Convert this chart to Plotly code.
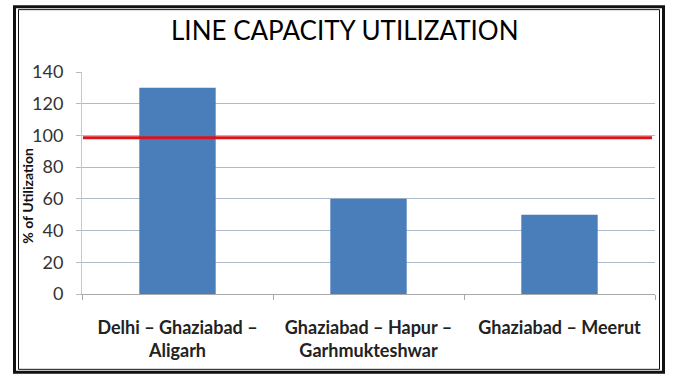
import plotly.graph_objects as go

categories = ["Delhi – Ghaziabad –<br>Aligarh", "Ghaziabad – Hapur –<br>Garhmukteshwar", "Ghaziabad – Meerut"]
utilization = [130, 60, 50]
threshold = 98.5
y_ticks = [0, 20, 40, 60, 80, 100, 120, 140]

W, H = 674, 382
L, R, T, B = 82, 19, 72, 87.5
pw, ph = W - L - R, H - T - B

def px(x):
    return (x - L) / pw

def py(y):
    return (H - B - y) / ph

font = "Lato"
fig = go.Figure()
fig.add_trace(go.Bar(x=categories, y=utilization, marker=dict(color="#4a7ebb", line=dict(width=0)),
                     showlegend=False))

fig.update_layout(
    width=W, height=H,
    margin=dict(l=L, r=R, t=T, b=B),
    paper_bgcolor="white", plot_bgcolor="white",
    bargap=0.6,
    font=dict(family=font, color="#222"),
    xaxis=dict(showgrid=False, showline=True, linecolor="#a9a9a9", linewidth=1,
               ticks="outside", tickson="boundaries", ticklen=5, tickcolor="#a9a9a9",
               ticklabelstandoff=17,
               tickfont=dict(size=18, family=font, color="#222", weight="bold")),
    yaxis=dict(range=[0, 140], tickvals=y_ticks, showgrid=True, gridcolor="#aebbcb", gridwidth=1,
               showline=True, linecolor="#c8c8c8", ticks="outside", ticklen=5, tickcolor="#aebbcb",
               tickfont=dict(size=18, family=font, color="#333"), zeroline=False, ticklabelstandoff=9),
)

fig.add_shape(type="line", xref="paper", yref="y", x0=px(83), x1=px(652), y0=threshold, y1=threshold,
              line=dict(color="#d9141c", width=3))

# title
fig.add_annotation(text="LINE CAPACITY UTILIZATION", xref="paper", yref="paper", x=px(345), y=py(30),
                   showarrow=False, font=dict(size=26, family=font, color="#000"), xanchor="center", yanchor="middle")
# y title
fig.add_annotation(text="% of Utilization", xref="paper", yref="paper", x=px(28), y=py(196),
                   showarrow=False, textangle=-90, font=dict(size=14, family=font, color="#111", weight="bold"),
                   xanchor="center", yanchor="middle")

# double frame
fig.add_shape(type="rect", xref="paper", yref="paper", x0=px(14.5), x1=px(663.5), y0=py(6.5), y1=py(373),
              line=dict(color="#111", width=3), layer="above")
fig.add_shape(type="rect", xref="paper", yref="paper", x0=px(18.5), x1=px(659.5), y0=py(9.5), y1=py(370),
              line=dict(color="#111", width=1), layer="above")

fig.write_html("out.html")
